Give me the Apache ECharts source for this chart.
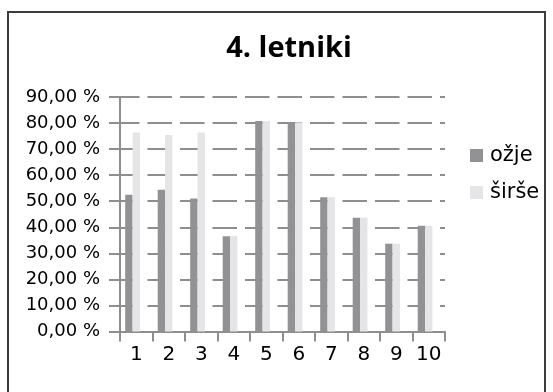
<!DOCTYPE html>
<html>
<head>
<meta charset="utf-8">
<script src="https://cdn.jsdelivr.net/npm/echarts@6/dist/echarts.min.js"></script>
<style>
  html, body { margin: 0; padding: 0; background: #ffffff; }
  #chart { width: 553px; height: 392px; }
</style>
</head>
<body>
<div id="chart"></div>
<script>
// Share of pupils per question, 4th-year group
const categories = ['1', '2', '3', '4', '5', '6', '7', '8', '9', '10'];
const ozje  = [52.5, 54.4, 51.0, 36.6, 80.8, 80.2, 51.5, 43.7, 33.7, 40.6];
const sirse = [76.4, 75.4, 76.4, 36.6, 80.8, 80.2, 51.5, 43.7, 33.7, 40.6];
const seriesNames = ['ožje', 'širše'];
const yTicks = { min: 0, max: 90, step: 10 };

const chart = echarts.init(document.getElementById('chart'), null, { renderer: 'canvas' });

const axisGray = '#8e8e8e';
const fmtPct = v => v.toFixed(2).replace('.', ',') + ' %';

chart.setOption({
  backgroundColor: '#ffffff',
  animation: false,
  title: {
    text: '4. letniki',
    left: 284,
    top: 29,
    textAlign: 'center',
    textStyle: { fontFamily: 'Open Sans', fontWeight: 'bold', fontSize: 29, color: '#000000' }
  },
  legend: {
    data: seriesNames,
    orient: 'vertical',
    left: 465,
    top: 140,
    itemWidth: 13,
    itemHeight: 13,
    itemGap: 16,
    icon: 'rect',
    textStyle: { fontFamily: 'DejaVu Sans', fontSize: 21, lineHeight: 21, color: '#000000', padding: [0, 0, 0, 2] }
  },
  grid: { left: 120, right: 108, top: 97, bottom: 60.5, containLabel: false },
  xAxis: {
    type: 'category',
    data: categories,
    boundaryGap: true,
    axisLine: { lineStyle: { color: axisGray, width: 2 } },
    axisTick: { show: true, length: 10, alignWithLabel: false, lineStyle: { color: axisGray, width: 2 } },
    axisLabel: { interval: 0, hideOverlap: false, margin: 13, fontFamily: 'DejaVu Sans', fontSize: 20, color: '#000000' }
  },
  yAxis: {
    type: 'value',
    min: yTicks.min,
    max: yTicks.max,
    interval: yTicks.step,
    axisLine: { show: true, lineStyle: { color: axisGray, width: 2 } },
    axisTick: { show: true, length: 11, lineStyle: { color: axisGray, width: 2 } },
    axisLabel: { margin: 20, formatter: fmtPct, fontFamily: 'DejaVu Sans', fontSize: 18, color: '#000000' },
    splitLine: { show: true, lineStyle: { color: axisGray, width: 2, type: [24.5, 8], dashOffset: 5 } }
  },
  series: [
    {
      name: seriesNames[0], type: 'bar', data: ozje,
      itemStyle: { color: '#929295' }, barGap: '0%', barCategoryGap: '32%'
    },
    {
      name: seriesNames[1], type: 'bar', data: sirse,
      itemStyle: { color: '#e5e5e7' }, barGap: '0%', barCategoryGap: '32%'
    },
    {
      // empty third column slot of each group
      name: 'prazno', type: 'bar', data: [],
      itemStyle: { color: '#ffffff' }, barGap: '0%', barCategoryGap: '32%'
    }
  ],
  graphic: [
    {
      type: 'rect',
      shape: { x: 8, y: 12, width: 537, height: 392 },
      style: { fill: 'none', stroke: '#3c3c3c', lineWidth: 2 },
      silent: true
    }
  ]
});
</script>
</body>
</html>
